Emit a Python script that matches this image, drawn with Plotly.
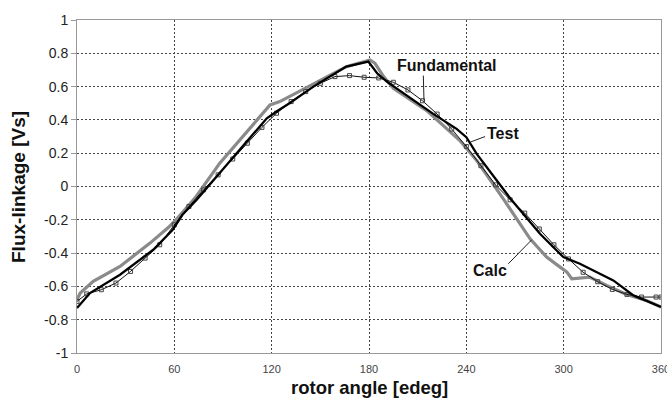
import plotly.graph_objects as go

# ---- data ----
test_x = [0, 8, 26.5, 47, 59, 65, 73.8, 98.4, 117, 123, 131, 145.7, 166, 179.6, 185, 191,
          205, 219.6, 234, 240, 246.4, 267, 285.4, 299.8, 310, 330.6, 343, 360]
test_y = [-0.73, -0.64, -0.53, -0.38, -0.26, -0.17, -0.08, 0.20, 0.41, 0.45, 0.50, 0.60, 0.72,
          0.75, 0.68, 0.63, 0.535, 0.436, 0.346, 0.296, 0.196, -0.07, -0.284, -0.424, -0.464,
          -0.564, -0.654, -0.724]

calc_x = [0, 2, 10, 26.5, 45, 57, 62, 72.7, 88, 104.6, 119, 125, 131, 150, 166, 180.6, 183.7,
          189, 195, 215.6, 236, 246.4, 262.8, 279.3, 289.5, 297.8, 302, 305, 310, 316, 326.5,
          338.8, 351, 360]
calc_y = [-0.68, -0.64, -0.57, -0.48, -0.34, -0.24, -0.19, -0.07, 0.14, 0.33, 0.49, 0.51, 0.54,
          0.64, 0.72, 0.76, 0.74, 0.66, 0.59, 0.456, 0.276, 0.156, -0.074, -0.314, -0.424,
          -0.484, -0.514, -0.554, -0.548, -0.544, -0.594, -0.648, -0.684, -0.724]

fund_x = [0, 6, 15, 24, 33, 42, 51, 60, 69, 78, 87, 96, 105, 114, 123, 132, 141, 150, 159, 168,
          177, 186, 195, 204, 213, 222, 231, 240, 249, 258, 267, 276, 285, 294, 303, 312, 321,
          330, 339, 348, 357, 360]
fund_y = [-0.69, -0.645, -0.62, -0.58, -0.51, -0.43, -0.35, -0.23, -0.12, -0.02, 0.07, 0.165,
          0.26, 0.355, 0.44, 0.51, 0.57, 0.62, 0.66, 0.666, 0.656, 0.652, 0.626, 0.58, 0.515,
          0.435, 0.345, 0.24, 0.125, 0.01, -0.08, -0.16, -0.255, -0.35, -0.435, -0.515, -0.572,
          -0.618, -0.648, -0.664, -0.664, -0.664]

x_ticks = [0, 60, 120, 180, 240, 300, 360]
y_ticks = [-1, -0.8, -0.6, -0.4, -0.2, 0, 0.2, 0.4, 0.6, 0.8, 1]
y_tick_text = ["-1", "-0.8", "-0.6", "-0.4", "-0.2", "0", "0.2", "0.4", "0.6", "0.8", "1"]

labels = ["Fundamental", "Test", "Calc"]
label_pos = [(228, 0.726), (262.9, 0.318), (254.4, -0.504)]
leader_lines = [((213.5, 0.666), (213.9, 0.516)),
                ((251.5, 0.30), (242.3, 0.266)),
                ((265.9, -0.464), (280.3, -0.32))]

FONT = "Liberation Sans, Arial, sans-serif"

fig = go.Figure()
fig.add_trace(go.Scatter(x=calc_x, y=calc_y, mode="lines", name="Calc",
                         line=dict(color="#8a8a8a", width=3.2)))
fig.add_trace(go.Scatter(x=fund_x, y=fund_y, mode="lines+markers", name="Fundamental",
                         line=dict(color="#111111", width=1),
                         marker=dict(symbol="square-open", size=4, color="#444444",
                                     line=dict(width=1))))
fig.add_trace(go.Scatter(x=test_x, y=test_y, mode="lines", name="Test",
                         line=dict(color="#000000", width=2.3)))

for txt, (lx, ly) in zip(labels, label_pos):
    fig.add_annotation(x=lx, y=ly, text="<b>%s</b>" % txt, showarrow=False,
                       xanchor="center", yanchor="middle",
                       font=dict(family=FONT, size=16, color="#111111"))
for (a, b) in leader_lines:
    fig.add_shape(type="line", x0=a[0], y0=a[1], x1=b[0], y1=b[1],
                  line=dict(color="#222222", width=1))

fig.add_annotation(xref="paper", yref="paper", x=-0.1002, y=0.5, textangle=-90,
                   xanchor="center", yanchor="middle",
                   text="<b>Flux-linkage [Vs]</b>", showarrow=False,
                   font=dict(family=FONT, size=19, color="#111111"))
fig.add_annotation(xref="paper", yref="paper", x=0.5, y=-0.105,
                   xanchor="center", yanchor="middle",
                   text="<b>rotor angle [edeg]</b>", showarrow=False,
                   font=dict(family=FONT, size=18.5, color="#111111"))

fig.update_layout(
    width=667, height=399,
    margin=dict(l=77, r=6, t=20, b=46, autoexpand=False),
    paper_bgcolor="white", plot_bgcolor="white",
    showlegend=False,
)
fig.update_xaxes(range=[0, 360], tickvals=x_ticks, ticktext=[str(v) for v in x_ticks],
                 automargin=False,
                 showgrid=True, gridcolor="#444444", griddash="2px,2px", gridwidth=1,
                 showline=True, linecolor="#999999", linewidth=1, mirror=True,
                 ticks="", ticklabelstandoff=6, ticklabeloverflow="allow",
                 tickfont=dict(family=FONT, size=11, color="#444444"), zeroline=False)
fig.update_yaxes(range=[-1, 1], tickvals=y_ticks, ticktext=y_tick_text,
                 automargin=False,
                 showgrid=True, gridcolor="#444444", griddash="2px,2px", gridwidth=1,
                 showline=True, linecolor="#999999", linewidth=1, mirror=True,
                 ticks="outside", ticklen=5, tickcolor="#999999",
                 tickfont=dict(family=FONT, size=14, color="#222222"), zeroline=False)

fig.write_html("out.html")
